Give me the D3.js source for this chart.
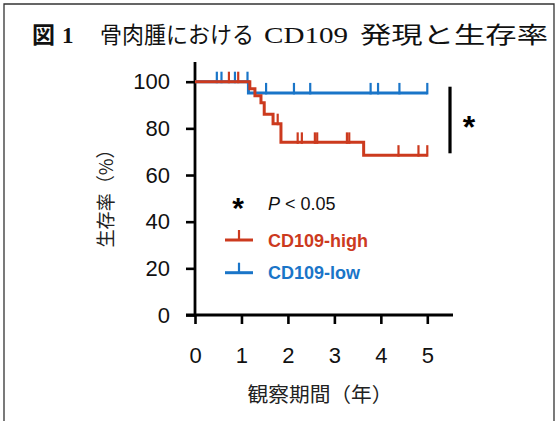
<!DOCTYPE html>
<html>
<head>
<meta charset="utf-8">
<script src="https://cdn.jsdelivr.net/npm/d3@7"></script>
<style>
body{margin:0;background:#fff;}
svg{display:block;}
</style>
</head>
<body>
<svg id="chart" width="560" height="421"></svg>
<script>
// Kaplan-Meier steps (years, % survival)
var highTimes=[0,1.18,1.29,1.42,1.49,1.68,1.85,3.63];
var highSurv=[100,97,94,91,86,82,74,68.5];
var highCensor=[0.73,0.93,1.78,2.21,2.30,2.58,2.63,3.27,3.32,4.38,4.81,5.0];

var lowTimes=[0,1.15];
var lowSurv=[100,95.2];
var lowCensor=[0.47,0.57,0.86,1.13,1.53,2.13,2.48,3.78,3.94,4.40,5.0];

var xTicks=[0,1,2,3,4,5];
var yTicks=[0,20,40,60,80,100];
var endTime=5.0;

var red="#cc3a1e", blue="#1a75c8";
var sans="'Liberation Sans', Arial, sans-serif";
var jp="'Noto Sans CJK JP', sans-serif";
var serif="'Liberation Serif', serif";

var svg=d3.select("#chart");

// frame
svg.append("path")
  .attr("d","M4,425 V4 H554 V425")
  .attr("fill","none").attr("stroke","#333").attr("stroke-width",1.3);

// title
var title=svg.append("g").attr("font-size",23).attr("fill","#111");
title.append("text").attr("x",32).attr("y",43).attr("font-family",jp).attr("font-weight","bold").text("図");
title.append("text").attr("x",62).attr("y",43).attr("font-family",serif).attr("font-weight","bold").text("1");
title.append("text").attr("x",100).attr("y",43).attr("font-family",jp)
  .attr("textLength",154).attr("lengthAdjust","spacingAndGlyphs").text("骨肉腫における");
title.append("text").attr("x",264).attr("y",43).attr("font-family",serif).attr("font-size",24)
  .attr("textLength",84).attr("lengthAdjust","spacingAndGlyphs").text("CD109");
title.append("text").attr("x",360).attr("y",43).attr("font-family",jp)
  .attr("textLength",188).attr("lengthAdjust","spacingAndGlyphs").text("発現と生存率");

var x=d3.scaleLinear().domain([0,5]).range([195,427.3]);
var y=d3.scaleLinear().domain([0,100]).range([315,81.7]);

// axes
var yAxis=svg.append("g").attr("transform","translate(195,0)")
  .call(d3.axisLeft(y).tickValues(yTicks).tickSize(9).tickSizeOuter(0).tickPadding(16));
var xAxis=svg.append("g").attr("transform","translate(0,315)")
  .call(d3.axisBottom(x).tickValues(xTicks).tickFormat(d3.format("d")).tickSize(9).tickSizeOuter(0).tickPadding(23));
[yAxis,xAxis].forEach(function(a){
  a.select(".domain").remove();
  a.selectAll(".tick line").attr("stroke","#000").attr("stroke-width",2.6);
  a.selectAll(".tick text").attr("font-family",sans).attr("font-size",22).attr("fill","#111");
});
svg.append("line").attr("x1",195).attr("x2",195).attr("y1",62).attr("y2",316.3)
  .attr("stroke","#000").attr("stroke-width",2.8);
svg.append("line").attr("x1",186).attr("x2",453).attr("y1",315).attr("y2",315)
  .attr("stroke","#000").attr("stroke-width",2.8);

// axis titles
svg.append("text").attr("transform","translate(113,194) rotate(-90)")
  .attr("text-anchor","middle").attr("font-family",jp).attr("font-size",19).attr("fill","#222")
  .attr("textLength",107).attr("lengthAdjust","spacingAndGlyphs")
  .text("生存率（%）");
svg.append("text").attr("x",320).attr("y",402).attr("text-anchor","middle")
  .attr("font-family",jp).attr("font-size",20).attr("fill","#222")
  .attr("textLength",145).attr("lengthAdjust","spacingAndGlyphs").text("観察期間（年）");

// KM curves
var survAt=function(times,surv,t){
  var s=surv[0];
  for(var i=0;i<times.length;i++){ if(times[i]<=t) s=surv[i]; }
  return s;
};
var stepLine=d3.line().x(function(d){return x(d[0]);}).y(function(d){return y(d[1]);}).curve(d3.curveStepAfter);

var drawCurve=function(times,surv,censor,color){
  var pts=times.map(function(t,i){return [t,surv[i]];});
  pts.push([endTime,surv[surv.length-1]]);
  svg.append("path").attr("d",stepLine(pts)).attr("fill","none")
    .attr("stroke",color).attr("stroke-width",3).attr("stroke-linejoin","miter");
  svg.append("g").selectAll("line").data(censor).enter().append("line")
    .attr("x1",function(d){return x(d);}).attr("x2",function(d){return x(d);})
    .attr("y1",function(d){return y(survAt(times,surv,d))+1.5;})
    .attr("y2",function(d){return y(survAt(times,surv,d))-10;})
    .attr("stroke",color).attr("stroke-width",2.2);
};
drawCurve(lowTimes,lowSurv,lowCensor,blue);
drawCurve(highTimes,highSurv,highCensor,red);

// significance bracket
svg.append("line").attr("x1",450).attr("x2",450).attr("y1",86.7).attr("y2",153.3)
  .attr("stroke","#000").attr("stroke-width",3.2);
svg.append("text").attr("x",469).attr("y",138).attr("text-anchor","middle")
  .attr("font-family",sans).attr("font-weight","bold").attr("font-size",32).text("*");

// legend
svg.append("text").attr("x",238).attr("y",218).attr("text-anchor","middle")
  .attr("font-family",sans).attr("font-weight","bold").attr("font-size",30).text("*");
var pt=svg.append("text").attr("x",268).attr("y",210).attr("font-family",sans).attr("font-size",18).attr("fill","#111");
pt.append("tspan").attr("font-style","italic").text("P");
pt.append("tspan").text(" < 0.05");

var legend=[{name:"CD109-high",color:red,y:240},{name:"CD109-low",color:blue,y:272.7}];
legend.forEach(function(l){
  svg.append("line").attr("x1",225).attr("x2",253).attr("y1",l.y).attr("y2",l.y)
    .attr("stroke",l.color).attr("stroke-width",3);
  svg.append("line").attr("x1",239).attr("x2",239).attr("y1",l.y).attr("y2",l.y-10)
    .attr("stroke",l.color).attr("stroke-width",2.2);
  svg.append("text").attr("x",268).attr("y",l.y+6.5).attr("font-family",sans).attr("font-weight","bold")
    .attr("font-size",18).attr("fill",l.color).text(l.name);
});
</script>
</body>
</html>
